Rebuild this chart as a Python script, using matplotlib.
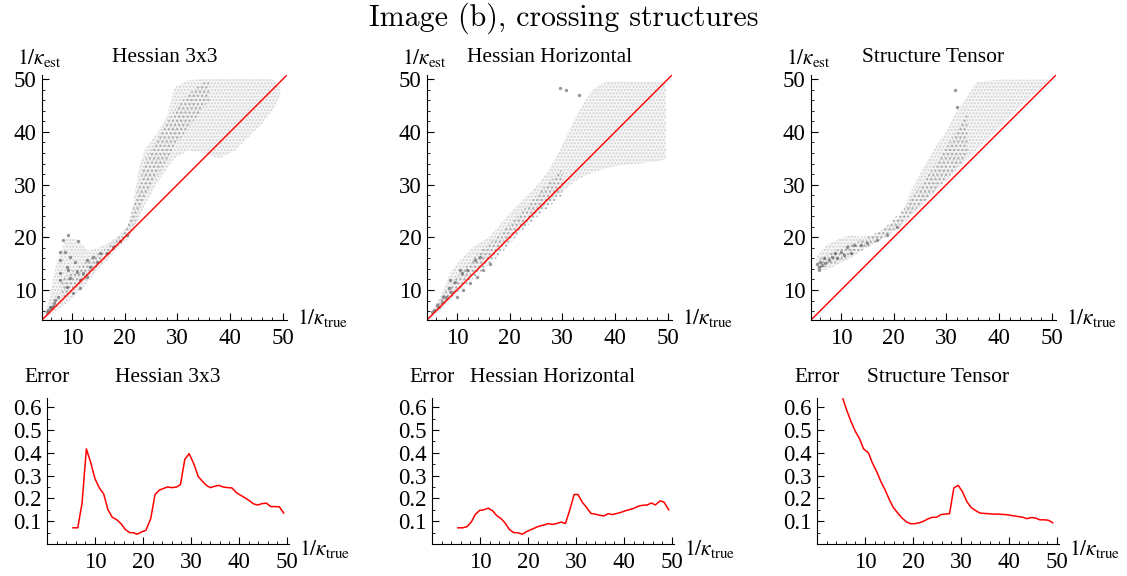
import numpy as np
import matplotlib.pyplot as plt
from matplotlib.ticker import FixedLocator, MultipleLocator

plt.rcParams['font.family'] = 'Liberation Serif'
plt.rcParams['mathtext.fontset'] = 'stix'
plt.rcParams['hatch.linewidth'] = 1.0

# ---- scatter clouds (envelopes) ----
# Hessian 3x3
cloud1_x = [4.4, 5.5, 7, 9, 11, 13, 15, 17, 19, 20.5, 21.5, 22, 23, 24, 26, 28, 29.5, 32, 35, 38, 41, 44, 46, 48, 49.5]
cloud1_lo = [4.4, 5, 6, 7.5, 9.5, 11.5, 14, 16, 18.5, 19.5, 21, 22, 24.5, 26.5, 30, 33, 35, 36.5, 36, 35, 36.5, 39.5, 41.5, 44, 47]
cloud1_hi = [5, 7.5, 15, 20, 19.5, 17.5, 18, 19, 20.5, 22, 25, 29, 34.5, 37, 39.5, 43, 48.5, 49.8, 50, 50, 50, 50, 50, 50, 48.5]
core1_x = [8, 12, 16, 20, 22, 24, 27, 30, 33, 36]
core1_lo = [8, 11.5, 15.5, 19.5, 23, 28, 33, 38, 42, 46]
core1_hi = [12, 15, 17.5, 21, 27, 35, 40, 45, 48, 50]
dark1_x = [8.35, 9.3, 11.2, 7.7, 8.7, 9.6, 10.6, 7.7, 9.0, 7.7, 9.3, 10.9, 12.1, 7.7, 9.0, 9.6, 7.4, 6.5, 5.8, 5.5,
           6.1, 6.8, 12.8, 14.0, 15.3, 16.6, 17.8, 19.1, 20.4, 13.4, 14.7, 11.5, 12.8, 10.2, 11.5, 5.2, 6.3]
dark1_y = [19.5, 20.4, 19.2, 17.3, 17.3, 16.3, 15.4, 15.7, 14.4, 13.2, 13.8, 13.5, 13.2, 11.9, 10.6, 12.2, 8.7, 7.5, 6.8, 6.2,
           6.5, 8.1, 15.7, 16.3, 17.0, 17.0, 18.2, 19.2, 20.4, 14.4, 15.4, 11.9, 12.5, 9.4, 10.3, 5.8, 7.0]

# Hessian Horizontal
cloud2_x = [4.5, 6.8, 8.7, 10.6, 13.1, 16.2, 19.4, 21.9, 24.4, 27, 29.5, 31.3, 33.2, 35.7, 38.3, 41.4, 44.6, 47.7, 49.6]
cloud2_lo = [4.3, 6.2, 8.2, 10.3, 13.2, 16.3, 19.5, 21.5, 24, 26.3, 28.3, 29.7, 31.1, 32.3, 33.1, 33.7, 34, 34.4, 34.8]
cloud2_hi = [4.6, 8.7, 13.2, 15.7, 18.2, 20.1, 23.9, 26.5, 29, 32.1, 36.6, 40.4, 44.2, 48, 49.6, 49.6, 49.6, 49.6, 49.6]
core2_x = [6, 10, 14, 18, 22, 26, 30]
core2_lo = [6, 9.5, 13, 16.5, 21, 24.5, 28]
core2_hi = [7.5, 12.5, 17, 20.5, 24.5, 29, 33]
dark2_x = [6.2, 7.1, 8.0, 8.9, 7.4, 8.4, 9.6, 10.9, 11.8, 13.4, 14.4, 10.0, 11.2, 12.5, 13.7, 15.0, 16.2, 5.6, 6.5, 5.2,
           8.7, 10.6, 29.5, 30.7, 33.2]
dark2_y = [7.1, 7.8, 8.7, 9.7, 8.7, 10.3, 11.6, 13.2, 13.8, 15.7, 16.3, 8.7, 10.0, 11.3, 12.5, 13.8, 15.0, 6.2, 6.8, 5.9,
           11.9, 13.8, 48.3, 48.0, 47.0]

# Structure Tensor
cloud3_x = [5.4, 7.3, 9.9, 11.8, 13.7, 16.2, 18.7, 21.3, 22.8, 25, 27.6, 30.1, 31.4, 33.9, 35.8, 40, 45, 49.3]
cloud3_lo = [13.8, 13.8, 15.1, 16, 17.3, 18.8, 20.2, 22, 23.6, 25.8, 28.4, 30.9, 32.2, 34.7, 36.6, 40.8, 45.8, 49.5]
cloud3_hi = [16.5, 18.5, 19.8, 20.4, 20.1, 20.4, 22, 23.9, 27.7, 32.1, 36.6, 40.4, 42.9, 46.7, 49.5, 49.9, 49.9, 49.9]
core3_x = [6, 10, 14, 18, 22, 26, 30, 34]
core3_lo = [14, 15.5, 17.5, 19.8, 23, 27, 31, 35.5]
core3_hi = [16, 18, 19.5, 21.5, 25.5, 31, 37, 44]
dark3_x = [5.8, 6.4, 6.1, 7.0, 7.7, 8.3, 6.7, 8.9, 9.9, 11.1, 12.4, 9.2, 10.5, 11.8, 13.7, 14.9, 16.8, 18.7, 20.6, 5.8,
           5.4, 31.7, 32.0]
dark3_y = [14.4, 14.7, 15.4, 15.1, 15.7, 16.3, 16.0, 17.0, 17.3, 18.2, 18.5, 16.0, 16.6, 17.0, 18.5, 18.9, 19.5, 20.4, 22.0, 13.8,
           14.9, 48.0, 44.8]

# ---- error curves ----
err1_x = [5.4, 6.4, 7.3, 8.2, 9.1, 10.0, 10.9, 11.8, 12.7, 13.6, 14.5, 15.4, 16.3, 17.2, 18.0, 18.8, 19.7, 20.6, 21.6, 22.5,
          23.4, 24.2, 25.1, 26.0, 27.0, 27.8, 28.7, 29.6, 30.6, 31.5, 32.4, 33.2, 34.0, 34.9, 35.8, 36.7, 37.6, 38.5, 39.4,
          40.3, 41.2, 42.2, 43.0, 43.9, 44.8, 45.7, 46.6, 47.5, 48.4, 49.3]
err1_y = [0.071, 0.071, 0.179, 0.417, 0.357, 0.286, 0.246, 0.22, 0.15, 0.117, 0.107, 0.089, 0.064, 0.05, 0.049, 0.043, 0.053,
          0.06, 0.111, 0.217, 0.236, 0.243, 0.25, 0.247, 0.25, 0.261, 0.371, 0.396, 0.35, 0.296, 0.274, 0.257, 0.247, 0.253,
          0.257, 0.25, 0.247, 0.246, 0.226, 0.214, 0.203, 0.189, 0.176, 0.171, 0.177, 0.179, 0.164, 0.164, 0.163, 0.136]

err2_x = [5.4, 6.4, 7.3, 8.2, 9.0, 9.9, 10.8, 11.7, 12.6, 13.5, 14.4, 15.2, 16.1, 17.0, 17.9, 18.8, 19.7, 20.6, 21.5, 22.4,
          23.3, 24.2, 25.1, 26.0, 26.9, 27.8, 28.7, 29.6, 30.4, 31.3, 32.2, 33.1, 34.0, 34.9, 35.8, 36.7, 37.6, 38.5, 39.4,
          40.3, 41.2, 42.1, 43.0, 43.9, 44.8, 45.7, 46.5, 47.5, 48.3, 49.3]
err2_y = [0.071, 0.071, 0.076, 0.097, 0.129, 0.147, 0.15, 0.157, 0.146, 0.124, 0.111, 0.093, 0.064, 0.05, 0.049, 0.043, 0.054,
          0.063, 0.071, 0.079, 0.083, 0.089, 0.086, 0.09, 0.096, 0.09, 0.15, 0.217, 0.217, 0.183, 0.16, 0.134, 0.131, 0.126,
          0.123, 0.133, 0.129, 0.134, 0.139, 0.146, 0.151, 0.157, 0.166, 0.17, 0.171, 0.18, 0.171, 0.189, 0.184, 0.15]

err3_x = [5.4, 6.2, 7.1, 8.0, 8.9, 9.7, 10.7, 11.5, 12.5, 13.3, 14.2, 15.1, 15.9, 16.8, 17.7, 18.7, 19.5, 20.4, 21.3, 22.2,
          23.1, 24.0, 24.9, 25.8, 26.7, 27.6, 28.5, 29.4, 30.3, 31.2, 32.1, 33.0, 33.9, 34.8, 35.7, 36.6, 37.5, 38.4, 39.3,
          40.2, 41.1, 42.0, 42.9, 43.7, 44.6, 45.5, 46.4, 47.3, 48.2, 49.1]
err3_y = [0.636, 0.586, 0.536, 0.493, 0.46, 0.417, 0.4, 0.357, 0.314, 0.274, 0.236, 0.193, 0.16, 0.136, 0.114, 0.096, 0.089,
          0.089, 0.093, 0.1, 0.11, 0.117, 0.117, 0.129, 0.131, 0.133, 0.246, 0.257, 0.229, 0.186, 0.16, 0.147, 0.136, 0.134,
          0.133, 0.131, 0.131, 0.13, 0.129, 0.126, 0.123, 0.12, 0.117, 0.111, 0.116, 0.114, 0.106, 0.106, 0.104, 0.093]

titles = ['Hessian 3x3', 'Hessian Horizontal', 'Structure Tensor']
clouds = [(cloud1_x, cloud1_lo, cloud1_hi, core1_x, core1_lo, core1_hi, dark1_x, dark1_y),
          (cloud2_x, cloud2_lo, cloud2_hi, core2_x, core2_lo, core2_hi, dark2_x, dark2_y),
          (cloud3_x, cloud3_lo, cloud3_hi, core3_x, core3_lo, core3_hi, dark3_x, dark3_y)]
errors = [(err1_x, err1_y), (err2_x, err2_y), (err3_x, err3_y)]

W, H = 1127, 576
fig = plt.figure(figsize=(W / 100, H / 100), dpi=100)
FS = 15.5
TFS = 16.5


def px_axes(left, top, right, bottom):
    return fig.add_axes([left / W, 1 - bottom / H, (right - left) / W, (bottom - top) / H])


def style(ax, xmaj, xmin, ymaj, ymin):
    for s in ['top', 'right']:
        ax.spines[s].set_visible(False)
    for s in ['left', 'bottom']:
        ax.spines[s].set_linewidth(0.8)
    ax.xaxis.set_major_locator(FixedLocator(xmaj))
    ax.xaxis.set_minor_locator(MultipleLocator(xmin))
    ax.yaxis.set_major_locator(FixedLocator(ymaj))
    ax.yaxis.set_minor_locator(MultipleLocator(ymin))
    ax.tick_params(which='both', direction='in', labelsize=TFS)
    ax.tick_params(which='major', length=5, width=0.8)
    ax.tick_params(which='minor', length=2.5, width=0.6)
    ax.tick_params(axis='x', pad=6)
    ax.tick_params(axis='y', pad=4)


top_lefts = [42, 427, 811]
bot_lefts = [47, 432, 817]

for i in range(3):
    # scatter panel
    l = top_lefts[i]
    ax = px_axes(l, 75, l + 245, 320)
    cx, lo, hi, kx, klo, khi, dx, dy = clouds[i]
    ax.fill_between(cx, lo, hi, facecolor='#f6f6f6', edgecolor='#d2d2d2', hatch='.....', linewidth=0)
    ax.fill_between(kx, klo, khi, facecolor='none', edgecolor='#a8a8a8', hatch='....', linewidth=0)
    ax.scatter(dx, dy, s=6, color='#444444', alpha=0.55, linewidths=0)
    ax.plot([4.3, 50.8], [4.3, 50.8], color='#ff0000', lw=1.0)
    ax.set_xlim(4.3, 50.8)
    ax.set_ylim(4.3, 50.8)
    style(ax, [10, 20, 30, 40, 50], 2, [10, 20, 30, 40, 50], 2)
    ax.annotate(r'$1/\kappa_{\mathrm{est}}$', (0, 1), xycoords='axes fraction', xytext=(-3, 17),
                textcoords='offset pixels', ha='center', va='center', fontsize=FS)
    ax.annotate(titles[i], (0.5, 1), xycoords='axes fraction', xytext=(0, 18),
                textcoords='offset pixels', ha='center', va='center', fontsize=FS)
    ax.annotate(r'$1/\kappa_{\mathrm{true}}$', (1, 0), xycoords='axes fraction', xytext=(10, 2),
                textcoords='offset pixels', ha='left', va='center', fontsize=FS)

    # error panel
    l = bot_lefts[i]
    ax = px_axes(l, 398, l + 242, 544)
    ex, ey = errors[i]
    ax.plot(ex, ey, color='#ff0000', lw=1.1)
    ax.set_xlim(0, 50.4)
    ax.set_ylim(0, 0.64)
    style(ax, [10, 20, 30, 40, 50], 2, [0.1, 0.2, 0.3, 0.4, 0.5, 0.6], 0.05)
    ax.annotate('Error', (0, 1), xycoords='axes fraction', xytext=(0, 21),
                textcoords='offset pixels', ha='center', va='center', fontsize=FS)
    ax.annotate(titles[i], (0.5, 1), xycoords='axes fraction', xytext=(0, 20),
                textcoords='offset pixels', ha='center', va='center', fontsize=FS)
    ax.annotate(r'$1/\kappa_{\mathrm{true}}$', (1, 0), xycoords='axes fraction', xytext=(10, -5),
                textcoords='offset pixels', ha='left', va='center', fontsize=FS)

fig.text(0.5, 1 - 18 / H, 'Image (b), crossing structures', ha='center', va='center',
         fontsize=21.5, family='cmr10')

fig.savefig('out.png', dpi=100)
